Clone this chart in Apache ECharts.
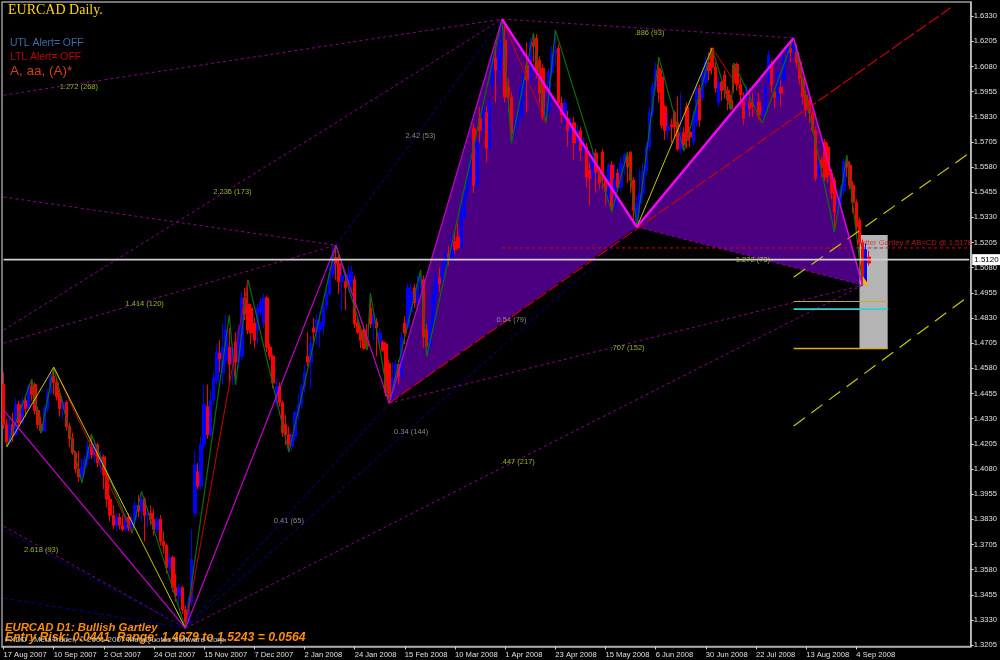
<!DOCTYPE html>
<html><head><meta charset="utf-8">
<style>html,body{margin:0;padding:0;background:#000}#c{width:1000px;height:660px}</style>
<script src="https://cdn.jsdelivr.net/npm/echarts@6/dist/echarts.min.js"></script>
</head><body><div id="c"></div><script>
const tickLabels=['17 Aug 2007','10 Sep 2007','2 Oct 2007','24 Oct 2007','15 Nov 2007','7 Dec 2007','2 Jan 2008','24 Jan 2008','15 Feb 2008','10 Mar 2008','1 Apr 2008','23 Apr 2008','15 May 2008','6 Jun 2008','30 Jun 2008','22 Jul 2008','13 Aug 2008','4 Sep 2008'];
const priceTicks=[1.3205,1.3330,1.3455,1.3580,1.3705,1.3830,1.3955,1.4080,1.4205,1.4330,1.4455,1.4580,1.4705,1.4830,1.4955,1.5080,1.5205,1.5330,1.5455,1.5580,1.5705,1.5830,1.5955,1.6080,1.6205,1.6330];
// [open, close, low, high], daily bars
const candles=[
[1.4500,1.4300,1.4280,1.4560],[1.4300,1.4215,1.4189,1.4330],[1.4215,1.4300,1.4200,1.4340],[1.4300,1.4250,1.4215,1.4360],[1.4250,1.4400,1.4240,1.4430],[1.4400,1.4310,1.4290,1.4420],[1.4310,1.4420,1.4300,1.4440],[1.4420,1.4380,1.4340,1.4450],[1.4380,1.4490,1.4370,1.4500],[1.4490,1.4450,1.4420,1.4526],
[1.4500,1.4370,1.4350,1.4510],[1.4370,1.4300,1.4280,1.4390],[1.4300,1.4270,1.4258,1.4340],[1.4270,1.4380,1.4265,1.4400],[1.4380,1.4460,1.4360,1.4480],[1.4460,1.4540,1.4450,1.4560],[1.4540,1.4510,1.4450,1.4586],[1.4510,1.4440,1.4420,1.4530],[1.4440,1.4380,1.4340,1.4460],[1.4380,1.4410,1.4330,1.4430],
[1.4410,1.4290,1.4270,1.4420],[1.4290,1.4230,1.4190,1.4310],[1.4230,1.4160,1.4150,1.4260],[1.4160,1.4080,1.4060,1.4170],[1.4080,1.4040,1.4015,1.4170],[1.4040,1.4090,1.4010,1.4130],[1.4090,1.4130,1.4050,1.4150],[1.4130,1.4190,1.4100,1.4220],[1.4190,1.4150,1.4130,1.4253],[1.4150,1.4200,1.4110,1.4230],
[1.4200,1.4110,1.4090,1.4210],[1.4110,1.4140,1.4060,1.4170],[1.4140,1.4050,1.3980,1.4150],[1.4050,1.3930,1.3890,1.4060],[1.3930,1.3850,1.3820,1.3950],[1.3850,1.3800,1.3780,1.3900],[1.3800,1.3840,1.3770,1.3860],[1.3840,1.3800,1.3780,1.3860],[1.3800,1.3780,1.3770,1.3850],[1.3780,1.3840,1.3770,1.3860],
[1.3840,1.3790,1.3770,1.3860],[1.3790,1.3830,1.3761,1.3850],[1.3830,1.3900,1.3790,1.3920],[1.3900,1.3870,1.3840,1.3950],[1.3870,1.3930,1.3820,1.3970],[1.3930,1.3850,1.3720,1.3940],[1.3850,1.3860,1.3790,1.3890],[1.3860,1.3830,1.3800,1.3900],[1.3830,1.3780,1.3750,1.3880],[1.3780,1.3830,1.3760,1.3840],
[1.3830,1.3720,1.3700,1.3850],[1.3720,1.3700,1.3660,1.3770],[1.3700,1.3590,1.3560,1.3710],[1.3590,1.3640,1.3560,1.3660],[1.3640,1.3490,1.3470,1.3650],[1.3490,1.3450,1.3420,1.3560],[1.3450,1.3490,1.3400,1.3510],[1.3490,1.3380,1.3360,1.3500],[1.3380,1.3320,1.3289,1.3400],[1.3320,1.3420,1.3310,1.3450],
[1.3420,1.3630,1.3400,1.3780],[1.3861,1.4100,1.3840,1.4170],[1.4065,1.3995,1.3980,1.4110],[1.3995,1.4200,1.3980,1.4240],[1.4200,1.4400,1.4180,1.4500],[1.4390,1.4250,1.4230,1.4500],[1.4250,1.4420,1.4240,1.4470],[1.4420,1.4530,1.4400,1.4560],[1.4520,1.4660,1.4500,1.4700],[1.4656,1.4626,1.4560,1.4720],
[1.4556,1.4686,1.4500,1.4800],[1.4621,1.4770,1.4600,1.4844],[1.4686,1.4600,1.4500,1.4780],[1.4600,1.4680,1.4497,1.4700],[1.4710,1.4610,1.4497,1.4760],[1.4610,1.4770,1.4580,1.4800],[1.4640,1.4930,1.4620,1.4960],[1.4930,1.4850,1.4820,1.4980],[1.4900,1.4770,1.4750,1.5018],[1.4880,1.4755,1.4700,1.4900],
[1.4805,1.4720,1.4680,1.4830],[1.4770,1.4880,1.4700,1.4900],[1.4860,1.4910,1.4840,1.4930],[1.4805,1.4930,1.4780,1.4950],[1.4930,1.4685,1.4660,1.4940],[1.4685,1.4640,1.4620,1.4700],[1.4640,1.4507,1.4480,1.4650],[1.4407,1.4490,1.4390,1.4530],[1.4490,1.4410,1.4390,1.4510],[1.4410,1.4260,1.4240,1.4420],
[1.4300,1.4250,1.4200,1.4350],[1.4250,1.4200,1.4164,1.4290],[1.4190,1.4240,1.4170,1.4260],[1.4240,1.4360,1.4220,1.4370],[1.4360,1.4400,1.4320,1.4450],[1.4400,1.4490,1.4380,1.4500],[1.4490,1.4560,1.4460,1.4600],[1.4640,1.4610,1.4590,1.4760],[1.4610,1.4705,1.4480,1.4740],[1.4780,1.4760,1.4700,1.4830],
[1.4760,1.4820,1.4700,1.4850],[1.4770,1.4810,1.4680,1.4860],[1.4790,1.4890,1.4750,1.4910],[1.4890,1.4950,1.4870,1.5000],[1.4950,1.5050,1.4940,1.5100],[1.5050,1.5130,1.5030,1.5180],[1.5130,1.5100,1.5020,1.5192],[1.5100,1.5010,1.4950,1.5150],[1.5010,1.5040,1.4870,1.5100],[1.5010,1.4980,1.4870,1.5040],
[1.4990,1.5050,1.4960,1.5090],[1.5000,1.5060,1.4950,1.5090],[1.5020,1.4800,1.4780,1.5040],[1.4805,1.4760,1.4750,1.4830],[1.4760,1.4720,1.4680,1.4790],[1.4770,1.4680,1.4671,1.4790],[1.4720,1.4690,1.4671,1.4800],[1.4880,1.4800,1.4780,1.4954],[1.4800,1.4850,1.4720,1.4870],[1.4810,1.4780,1.4640,1.4830],
[1.4705,1.4755,1.4680,1.4780],[1.4710,1.4670,1.4660,1.4720],[1.4700,1.4460,1.4440,1.4710],[1.4605,1.4435,1.4407,1.4620],[1.4440,1.4530,1.4410,1.4610],[1.4530,1.4600,1.4480,1.4620],[1.4600,1.4540,1.4500,1.4620],[1.4540,1.4735,1.4520,1.4760],[1.4805,1.4755,1.4700,1.4840],[1.4785,1.4980,1.4770,1.5000],
[1.4860,1.4960,1.4840,1.5000],[1.4980,1.4905,1.4880,1.5000],[1.4905,1.5000,1.4890,1.5040],[1.5000,1.5040,1.4960,1.5068],[1.5020,1.4735,1.4680,1.5040],[1.4770,1.4690,1.4641,1.4800],[1.4690,1.4800,1.4660,1.4830],[1.4800,1.4950,1.4780,1.4990],[1.4950,1.5030,1.4900,1.5060],[1.5030,1.5000,1.4960,1.5080],
[1.5000,1.5090,1.4980,1.5120],[1.5090,1.5150,1.5060,1.5170],[1.5150,1.5130,1.5090,1.5190],[1.5130,1.5210,1.5110,1.5240],[1.5210,1.5170,1.5150,1.5260],[1.5233,1.5178,1.5170,1.5300],[1.5183,1.5381,1.5170,1.5400],[1.5330,1.5450,1.5320,1.5480],[1.5450,1.5530,1.5420,1.5560],[1.5530,1.5620,1.5480,1.5640],
[1.5770,1.5490,1.5450,1.5800],[1.5490,1.5710,1.5470,1.5750],[1.5822,1.5763,1.5700,1.5880],[1.5763,1.5860,1.5740,1.5900],[1.5850,1.5674,1.5605,1.5880],[1.5674,1.5898,1.5650,1.5920],[1.5987,1.6120,1.5950,1.6150],[1.6121,1.6062,1.5900,1.6180],[1.6062,1.6140,1.6000,1.6230],[1.6126,1.6196,1.6000,1.6315],
[1.6210,1.5927,1.5900,1.6290],[1.5977,1.5927,1.5850,1.6020],[1.5927,1.5749,1.5699,1.5950],[1.5749,1.5790,1.5720,1.5840],[1.5790,1.5830,1.5770,1.5880],[1.5830,1.5980,1.5800,1.6000],[1.5980,1.6040,1.5900,1.6070],[1.6086,1.6012,1.5850,1.6200],[1.6012,1.6200,1.5980,1.6220],[1.6200,1.6180,1.6100,1.6245],
[1.6220,1.6047,1.6020,1.6240],[1.6110,1.5947,1.5900,1.6130],[1.6071,1.5828,1.5810,1.6090],[1.5828,1.5860,1.5798,1.5900],[1.5860,1.6050,1.5840,1.6070],[1.6050,1.6146,1.6030,1.6180],[1.6146,1.6160,1.6080,1.6260],[1.6171,1.5898,1.5880,1.6190],[1.5898,1.5840,1.5800,1.5930],[1.5840,1.5900,1.5790,1.5920],
[1.5822,1.5763,1.5680,1.5860],[1.5740,1.5800,1.5700,1.5830],[1.5800,1.5700,1.5615,1.5830],[1.5700,1.5760,1.5650,1.5790],[1.5760,1.5660,1.5610,1.5780],[1.5660,1.5700,1.5620,1.5730],[1.5679,1.5530,1.5480,1.5700],[1.5565,1.5525,1.5390,1.5600],[1.5530,1.5640,1.5510,1.5660],[1.5650,1.5555,1.5450,1.5670],
[1.5555,1.5500,1.5470,1.5580],[1.5654,1.5515,1.5470,1.5670],[1.5515,1.5460,1.5390,1.5530],[1.5430,1.5590,1.5390,1.5600],[1.5590,1.5381,1.5356,1.5610],[1.5381,1.5520,1.5370,1.5590],[1.5550,1.5480,1.5460,1.5570],[1.5480,1.5600,1.5460,1.5630],[1.5600,1.5640,1.5540,1.5650],[1.5630,1.5580,1.5500,1.5654],
[1.5654,1.5515,1.5450,1.5660],[1.5515,1.5365,1.5300,1.5530],[1.5310,1.5400,1.5282,1.5440],[1.5400,1.5450,1.5350,1.5570],[1.5450,1.5560,1.5420,1.5600],[1.5560,1.5680,1.5540,1.5700],[1.5680,1.5850,1.5660,1.5880],[1.5850,1.5980,1.5830,1.6000],[1.5980,1.6060,1.5960,1.6100],[1.6071,1.5952,1.5900,1.6126],
[1.6027,1.5788,1.5770,1.6060],[1.5880,1.5763,1.5714,1.5890],[1.5763,1.5780,1.5720,1.5850],[1.5790,1.5780,1.5700,1.5820],[1.5850,1.5778,1.5730,1.5860],[1.5800,1.5670,1.5659,1.5930],[1.5670,1.5750,1.5650,1.5950],[1.5750,1.5690,1.5659,1.5780],[1.5878,1.5713,1.5670,1.5900],[1.5754,1.5729,1.5680,1.5780],
[1.5704,1.5838,1.5690,1.5860],[1.5798,1.5972,1.5780,1.6000],[1.5972,1.5813,1.5780,1.5990],[1.5927,1.6052,1.5910,1.6070],[1.6000,1.6100,1.5980,1.6130],[1.6100,1.6060,1.6010,1.6150],[1.6171,1.6076,1.6040,1.6171],[1.6076,1.5972,1.5950,1.6100],[1.5898,1.6002,1.5880,1.6030],[1.6002,1.5960,1.5910,1.6020],
[1.6037,1.5962,1.5920,1.6060],[1.5962,1.5912,1.5863,1.5980],[1.5912,1.5870,1.5863,1.5940],[1.6086,1.5997,1.5950,1.6096],[1.6090,1.5990,1.5960,1.6100],[1.5990,1.5940,1.5880,1.6020],[1.5912,1.5822,1.5790,1.5950],[1.5850,1.5962,1.5830,1.5990],[1.5900,1.5870,1.5830,1.5970],[1.5900,1.5880,1.5830,1.5950],
[1.5880,1.5900,1.5840,1.5940],[1.5903,1.5838,1.5810,1.5950],[1.5838,1.5850,1.5798,1.5900],[1.5850,1.5980,1.5830,1.6000],[1.6002,1.6136,1.5990,1.6160],[1.6086,1.5987,1.5950,1.6110],[1.5952,1.5927,1.5870,1.5970],[1.5927,1.6050,1.5900,1.6070],[1.5977,1.5947,1.5880,1.6010],[1.6012,1.6121,1.5990,1.6140],
[1.6121,1.6170,1.6100,1.6190],[1.6170,1.6150,1.6100,1.6200],[1.6150,1.6190,1.6110,1.6221],[1.6150,1.6100,1.6070,1.6190],[1.6100,1.6020,1.5990,1.6120],[1.6020,1.5930,1.5890,1.6030],[1.5937,1.5863,1.5830,1.5960],[1.5912,1.5848,1.5800,1.5930],[1.5848,1.5763,1.5750,1.5860],[1.5763,1.5525,1.5510,1.5780],
[1.5540,1.5615,1.5500,1.5640],[1.5615,1.5580,1.5530,1.5630],[1.5704,1.5530,1.5510,1.5720],[1.5680,1.5540,1.5500,1.5700],[1.5550,1.5450,1.5420,1.5570],[1.5515,1.5356,1.5257,1.5530],[1.5356,1.5400,1.5330,1.5430],[1.5400,1.5465,1.5380,1.5490],[1.5465,1.5605,1.5440,1.5620],[1.5605,1.5580,1.5530,1.5639],
[1.5590,1.5490,1.5470,1.5610],[1.5490,1.5405,1.5350,1.5510],[1.5405,1.5282,1.5250,1.5420],[1.5316,1.5203,1.5180,1.5330],[1.5203,1.5000,1.4993,1.5220],[1.5010,1.5170,1.4995,1.5200],[1.5133,1.5103,1.5090,1.5165]
];
const barCount=309;
const lastPrice=1.5120;
// [bar index, price]
const zigzagGreen=[[1,1.4189],[9,1.4526],[12,1.4258],[16,1.4586],[25,1.4010],[28,1.4253],[41,1.3761],[44,1.3970],[58,1.3289],[72,1.4844],[74,1.4497],[78,1.5018],[91,1.4164],[106,1.5192],[116,1.4671],[117,1.4954],[123,1.4407],[133,1.5068],[135,1.4641],[159,1.6315],[162,1.5699],[169,1.6245],[173,1.5798],[176,1.6260],[194,1.5356],[199,1.5654],[202,1.5282],[209,1.6126],[217,1.5659],[226,1.6171],[232,1.5863],[233,1.6096],[242,1.5798],[252,1.6221],[265,1.5257],[269,1.5639],[274,1.4993]];
const zigzagRed1=[[16,1.4586],[41,1.3761]];
const zigzagRed2=[[58,1.3289],[78,1.5018]];
const zigzagRed3=[[159,1.6315],[173,1.5798]];
const zigzagRed4=[[226,1.6171],[242,1.5798]];
const zigzagYellow1=[[1,1.4189],[16,1.4586],[58,1.3289]];
const zigzagYellow2=[[202,1.5282],[226,1.6171]];
const magentaThin=[[0,1.4372],[58,1.3289],[106,1.5192],[123,1.4407],[159,1.6315]];
const magentaThick1=[[159,1.6315],[202,1.5282],[252,1.6221]];
const magentaMid=[[252,1.6221],[274,1.4993]];
const patternXAB=[[123,1.4407],[159,1.6315],[202,1.5282]];
const patternBCD=[[202,1.5282],[252,1.6221],[274,1.4993]];
const grayBox=[[273.4,1.4679],[282.4,1.4679],[282.4,1.5243],[273.4,1.5243]];
const goldTriangle=[[273.5,1.5040],[273.5,1.4993],[276,1.4993]];
const ratioDotted=[
 [[0,1.5937],[159,1.6315]],[[0,1.4770],[159,1.6315]],[[0,1.5431],[106,1.5192]],[[0,1.4705],[106,1.5192]],
 [[0,1.3796],[58,1.3289]],[[58,1.3289],[274,1.4993]],[[123,1.4407],[274,1.4993]],[[159,1.6315],[252,1.6221]],[[202,1.5282],[274,1.4993]]
];
const ratioBlue=[
 [[0,1.3776],[58,1.3289]],[[0,1.3438],[58,1.3289]],[[58,1.3289],[123,1.4407]],[[58,1.3289],[202,1.5282]],[[106,1.5192],[159,1.6315]]
];
const redChannel=[[123,1.4407],[302,1.6371]];
const redLevel=[[159,1.5178],[308,1.5178]];
const cyanLevelShort=[[273,1.5178],[282,1.5178]];
const yellowChannelLow=[[252,1.4293],[307,1.4929]];
const yellowChannelMid=[[252,1.5033],[308,1.5649]];
const goldLevel1=[[252,1.4912],[282,1.4912]];
const cyanLevel=[[252,1.4874],[282,1.4874]];
const goldLevel2=[[252,1.4679],[282,1.4679]];
const ratioGreenLabels=[[24.4,1.5977,'1.272 (268)'],[72.5,1.5455,'2.236 (173)'],[45.4,1.4899,'1.414 (120)'],[205.8,1.6245,'.886 (93)'],[238.6,1.5118,'1.272 (73)'],[199,1.4680,'.707 (152)'],[163.7,1.4114,'.447 (217)'],[11.6,1.3677,'2.618 (93)']];
const ratioGrayLabels=[[132.5,1.5734,'2.42 (53)'],[162.4,1.4820,'0.54 (79)'],[129.6,1.4263,'0.34 (144)'],[90.7,1.3821,'0.41 (65)']];
const noteLabel=[[271.5,1.5205,'Better Gartley if AB=CD @ 1.5178']];

const categories=new Array(barCount).fill('');
tickLabels.forEach((t,i)=>{categories[i*16]=t;});
const isTick=i=>i%16===0&&i<=272;

const chart=echarts.init(document.getElementById('c'),null,{renderer:'canvas'});
const ln=(data,color,width,type,z)=>({type:'line',data,symbol:'none',silent:true,animation:false,z:z||5,lineStyle:{color,width,type:type||'solid'}});
const poly=(pts,fill,z)=>({type:'custom',silent:true,animation:false,z,data:[0],
  renderItem:(p,api)=>({type:'polygon',shape:{points:pts.map(q=>api.coord(q))},style:{fill}}),clip:true});
const txt=(data,color,size)=>({type:'scatter',data,symbolSize:0,silent:true,animation:false,z:20,
  label:{show:true,position:'inside',formatter:p=>p.data[2],color,fontSize:size,fontFamily:'Liberation Sans'}});
const ttl=(text,left,top,color,fontSize,fontFamily,fontWeight,fontStyle)=>({text,left,top,padding:0,textStyle:{color,fontSize,fontFamily,fontWeight:fontWeight||'normal',fontStyle:fontStyle||'normal'}});

chart.setOption({
 backgroundColor:'#000',animation:false,
 title:[
  ttl('EURCAD Daily.',8,3,'#FFD700',14,'Liberation Serif'),
  ttl('UTL Alert= OFF',10,38,'#3A6EA5',10.4,'Liberation Sans'),
  ttl('LTL Alert= OFF',10,52,'#C00000',10.4,'Liberation Sans'),
  ttl('A, aa, (A)*',10,64,'#D2400F',13.5,'Liberation Sans'),
  ttl('EURCAD D1: Bullish Gartley',5,622,'#FF8C00',11.3,'Liberation Sans','bold','italic'),
  ttl('Entry Risk: 0.0441  Range: 1.4679 to 1.5243 = 0.0564',5,632,'#FF8C00',12.2,'Liberation Sans','bold','italic'),
  ttl('FXDD - MetaTrader, © 2001-2007 MetaQuotes Software Corp.',5,636,'#C8C8C8',8,'Liberation Sans')
 ],
 grid:{left:2,right:29,top:2,bottom:13.5,show:true,backgroundColor:'#000',borderColor:'#9a9a9a',borderWidth:1.5},
 xAxis:{type:'category',data:categories,boundaryGap:true,
  axisLine:{show:true,lineStyle:{color:'#b0b0b0',width:1.5}},
  axisTick:{show:true,alignWithLabel:true,interval:isTick,length:3,lineStyle:{color:'#d0d0d0'}},
  axisLabel:{show:true,interval:isTick,align:'left',margin:4,color:'#e0e0e0',fontSize:7.6,fontFamily:'Liberation Sans',hideOverlap:false,showMinLabel:true},
  splitLine:{show:false}},
 yAxis:{type:'value',position:'right',min:1.3198,max:1.6400,scale:true,
  axisLine:{show:true,lineStyle:{color:'#c8c8c8',width:1.5}},
  axisTick:{show:true,length:3,customValues:priceTicks,lineStyle:{color:'#d0d0d0'}},
  axisLabel:{show:true,customValues:priceTicks,margin:3,color:'#e0e0e0',fontSize:7.6,fontFamily:'Liberation Sans',formatter:v=>v.toFixed(4)},
  splitLine:{show:false}},
 series:[
  poly(patternXAB,'#4B0082',1),
  poly(patternBCD,'#4B0082',1),
  poly(grayBox,'#B4B4B4',2),
  {type:'candlestick',data:candles,barWidth:3,silent:true,animation:false,z:3,
   itemStyle:{color:'#0000FF',color0:'#FF0000',borderColor:'#0000FF',borderColor0:'#FF0000',borderWidth:1}},
  poly(goldTriangle,'#FFB000',4),
  ...ratioDotted.map(d=>ln(d,'#8A008A',1,[3,3],4)),
  ...ratioBlue.map(d=>ln(d,'#000090',1,[4,3],4)),
  ln(zigzagGreen,'#0A6E0A',1.2,'solid',6),
  ln(zigzagRed1,'#CC0000',1,'solid',6),ln(zigzagRed2,'#CC0000',1,'solid',6),ln(zigzagRed3,'#CC0000',1,'solid',6),ln(zigzagRed4,'#CC0000',1,'solid',6),
  ln(zigzagYellow1,'#C8C800',1,'solid',6),ln(zigzagYellow2,'#C8C800',1,'solid',6),
  ln(redChannel,'#CC0000',1.2,[12,3],6),
  ln(redLevel,'#E00000',1,[3,3],6),
  ln(cyanLevelShort,'#40C8C8',1,[3,3],7),
  ln(yellowChannelLow,'#C8C800',1.2,[14,8],6),
  ln(yellowChannelMid,'#C8C800',1.2,[14,8],6),
  ln(goldLevel1,'#C8A830',1.2,'solid',6),
  ln(cyanLevel,'#30D0D0',1.8,'solid',6),
  ln(goldLevel2,'#E0B000',1.5,'solid',6),
  ln(magentaThin,'#CC00CC',1.2,'solid',7),
  ln(magentaThick1,'#FF00FF',2.4,'solid',7),
  ln(magentaMid,'#E000E0',1.5,'solid',7),
  {...ln([[0,lastPrice],[308,lastPrice]],'#D0D0D0',1.6,'solid',8),
   endLabel:{show:true,formatter:lastPrice.toFixed(4),color:'#000',backgroundColor:'#fff',fontSize:8,fontFamily:'Liberation Sans',padding:[2,2,1,2],distance:3}},
  txt(ratioGreenLabels,'#B0E030',7.5),
  txt(ratioGrayLabels,'#A8A8B8',7.5),
  {...txt(noteLabel,'#E02020',7.6),label:{show:true,position:'right',formatter:p=>p.data[2],color:'#E02020',fontSize:7.6,fontFamily:'Liberation Sans',distance:0}}
 ]
});
</script></body></html>
